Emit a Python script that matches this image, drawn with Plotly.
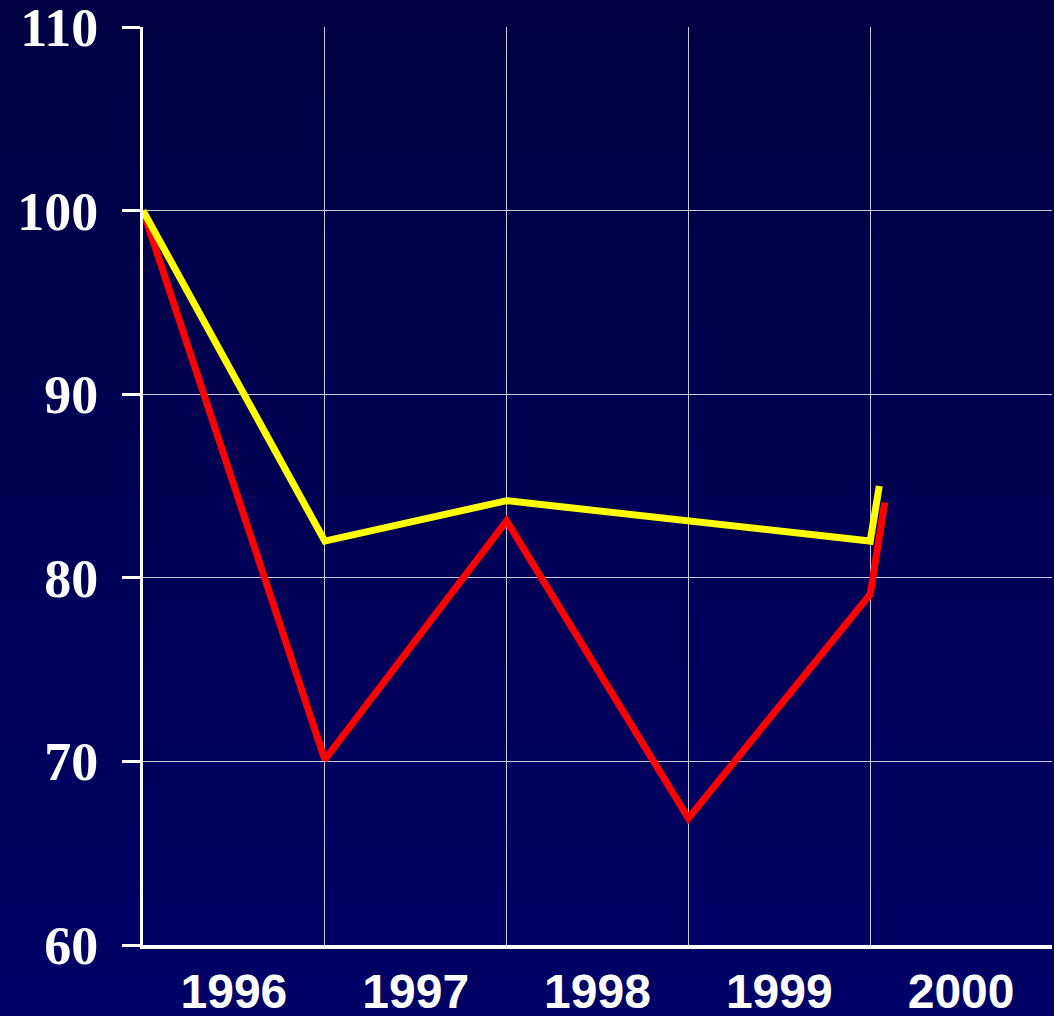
import base64
import plotly.graph_objects as go

# ---- data ----
year_labels = ["1996", "1997", "1998", "1999", "2000"]
yellow_t = [0, 1, 2, 3, 4, 4.05]
yellow_vals = [100, 82.0, 84.2, 83.1, 82.0, 85.0]
red_t = [0, 1, 2, 3, 4, 4.08]
red_vals = [100, 70.1, 83.1, 66.9, 79.1, 84.1]
y_ticks = [60, 70, 80, 90, 100, 110]

W, H = 1054, 1016
L, R, T, B = 143, 2, 27, 71
pw, ph = W - L - R, H - T - B

svg = ('<svg xmlns="http://www.w3.org/2000/svg" width="100" height="100" preserveAspectRatio="none">'
       '<defs><linearGradient id="g" x1="0" y1="0" x2="0" y2="1">'
       '<stop offset="0" stop-color="#000042"/><stop offset="1" stop-color="#000066"/>'
       '</linearGradient></defs><rect width="100" height="100" fill="url(#g)"/></svg>')
bg_uri = "data:image/svg+xml;base64," + base64.b64encode(svg.encode()).decode()

fig = go.Figure()
fig.add_trace(go.Scatter(x=red_t, y=red_vals, mode="lines",
                         line=dict(color="#FF0000", width=7), showlegend=False))
fig.add_trace(go.Scatter(x=yellow_t, y=yellow_vals, mode="lines",
                         line=dict(color="#FFFF00", width=7), showlegend=False))

fig.update_layout(
    width=W, height=H,
    margin=dict(l=L, r=R, t=T, b=B, autoexpand=False),
    paper_bgcolor="#000055",
    plot_bgcolor="rgba(0,0,0,0)",
    images=[dict(source=bg_uri, xref="paper", yref="paper",
                 x=-L / pw, y=1 + T / ph, sizex=W / pw, sizey=H / ph,
                 xanchor="left", yanchor="top", sizing="stretch", layer="below")],
    xaxis=dict(
        range=[0, len(year_labels)],
        tickvals=[i + 0.5 for i in range(len(year_labels))],
        ticktext=year_labels,
        showgrid=False, zeroline=False,
        ticks="",
        tickfont=dict(family="Liberation Sans, Arial", size=48, color="white", weight="bold"),
        showline=True, linecolor="white", linewidth=4,
        minor=dict(tick0=0, dtick=1, showgrid=True, gridcolor="#C8C8D8", gridwidth=1, ticks=""),
        ticklabelstandoff=1,
        ticklabeloverflow="allow",
        automargin=False,
    ),
    yaxis=dict(
        range=[60, 110], tickvals=y_ticks,
        showgrid=True, gridcolor="#C8C8D8", gridwidth=1, zeroline=False,
        ticks="outside", ticklen=18, tickwidth=3, tickcolor="white",
        showline=True, linecolor="white", linewidth=3,
        tickfont=dict(family="Liberation Serif, Times New Roman", size=54, color="white", weight="bold"),
        ticklabelstandoff=13,
        ticklabeloverflow="allow",
        automargin=False,
    ),
)

fig.write_html("out.html", config={"displayModeBar": False},
               post_script="document.body.style.margin='0';document.body.style.overflow='hidden';")
